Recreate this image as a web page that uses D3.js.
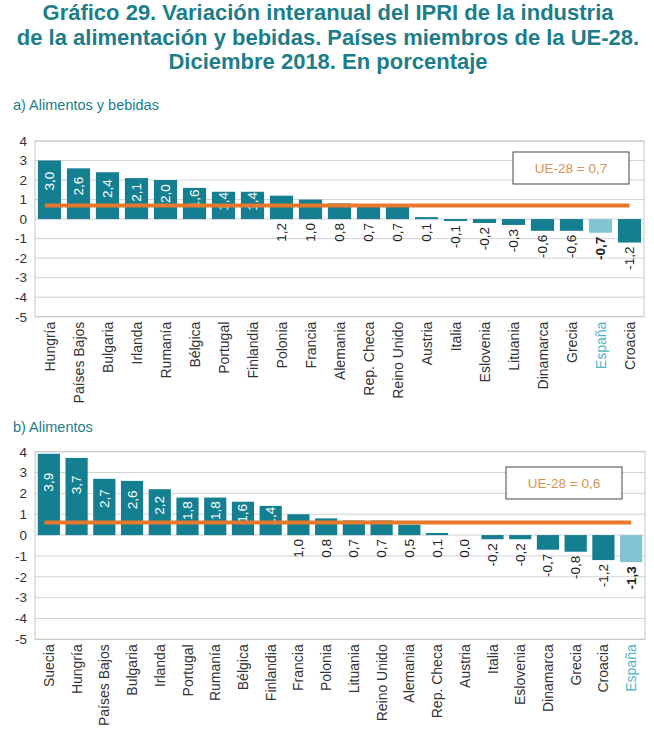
<!DOCTYPE html>
<html><head><meta charset="utf-8">
<script src="https://cdn.jsdelivr.net/npm/d3@7"></script>
<style>body{margin:0;background:#fff}svg{display:block;font-family:"Liberation Sans",Arial,sans-serif}</style>
</head><body><svg id="c" width="654" height="729"></svg>
<script>
const titleLines = ["Gráfico 29. Variación interanual del IPRI de la industria","de la alimentación y bebidas. Países miembros de la UE-28.","Diciembre 2018. En porcentaje"];
const subtitleA = "a) Alimentos y bebidas";
const subtitleB = "b) Alimentos";
const countriesA = ["Hungría","Países Bajos","Bulgaria","Irlanda","Rumanía","Bélgica","Portugal","Finlandia","Polonia","Francia","Alemania","Rep. Checa","Reino Unido","Austria","Italia","Eslovenia","Lituania","Dinamarca","Grecia","España","Croacia"];
const valuesA = [3.0,2.6,2.4,2.1,2.0,1.6,1.4,1.4,1.2,1.0,0.8,0.7,0.7,0.1,-0.1,-0.2,-0.3,-0.6,-0.6,-0.7,-1.2];
const euA = 0.7;
const countriesB = ["Suecia","Hungría","Países Bajos","Bulgaria","Irlanda","Portugal","Rumanía","Bélgica","Finlandia","Francia","Polonia","Lituania","Reino Unido","Alemania","Rep. Checa","Austria","Italia","Eslovenia","Dinamarca","Grecia","Croacia","España"];
const valuesB = [3.9,3.7,2.7,2.6,2.2,1.8,1.8,1.6,1.4,1.0,0.8,0.7,0.7,0.5,0.1,0.0,-0.2,-0.2,-0.7,-0.8,-1.2,-1.3];
const euB = 0.6;
const yTicks = [4,3,2,1,0,-1,-2,-3,-4,-5];
const highlight = "España";

const svg = d3.select("#c");
const TEAL = "#137f90", LIGHT = "#80c5d1", ORANGE = "#e7782c", TITLE = "#1d7d88";
const fmt = v => v.toFixed(1).replace(".", ",");

svg.append("g").selectAll("text").data(titleLines).join("text")
  .attr("x", 328).attr("y", (d,i) => 20 + i*24.5)
  .attr("text-anchor","middle").attr("font-size",22).attr("font-weight","bold")
  .attr("fill", TITLE).text(d => d);

function panel(cfg){
  const g = svg.append("g");
  const x = d3.scaleBand().domain(cfg.cats).range([cfg.left, cfg.right]).paddingInner(0.2).paddingOuter(0.1);
  const y = d3.scaleLinear().domain([-5,4]).range([cfg.bottom, cfg.top]);
  g.append("text").attr("x", cfg.subX).attr("y", cfg.subY).attr("font-size",14.5).attr("fill", TITLE).text(cfg.sub);
  g.append("g").selectAll("line").data(yTicks).join("line")
    .attr("x1", cfg.left).attr("x2", cfg.right).attr("y1", d=>y(d)).attr("y2", d=>y(d))
    .attr("stroke", "#d2d2d2").attr("stroke-width",1);
  g.append("rect").attr("x", cfg.left).attr("y", cfg.top).attr("width", cfg.right-cfg.left).attr("height", cfg.bottom-cfg.top)
    .attr("fill","none").attr("stroke","#c6c6c6");
  const ya = d3.axisLeft(y).tickValues(yTicks).tickSize(0).tickPadding(8).tickFormat(d3.format("d"));
  const ag = g.append("g").attr("transform", `translate(${cfg.left},0)`).call(ya);
  ag.select(".domain").remove();
  ag.selectAll("text").attr("font-size",13.5).attr("fill","#333").attr("font-family","Liberation Sans, Arial, sans-serif").text(d => d < 0 ? "-" + Math.abs(d) : d);
  const data = cfg.cats.map((c,i)=>({c, v: cfg.vals[i]}));
  g.append("g").selectAll("rect").data(data).join("rect")
    .attr("x", d=>x(d.c)).attr("width", x.bandwidth())
    .attr("y", d=>y(Math.max(0,d.v))).attr("height", d=>Math.max(Math.abs(y(d.v)-y(0)), d.v!==0?1.5:0))
    .attr("fill", d=> d.c===highlight ? LIGHT : TEAL);
  g.append("g").selectAll("text").data(data).join("text")
    .attr("transform", d=>{
      const cx = x(d.c)+x.bandwidth()/2;
      if (d.v >= 1.3){
        const top = y(d.v), h = y(0)-y(d.v);
        return `translate(${cx+4.5},${top + 0.35*h}) rotate(-90)`;
      }
      return `translate(${cx+4.5},${Math.max(y(0), y(d.v)) + 4}) rotate(-90)`;
    })
    .attr("text-anchor", d=> d.v>=1.3 ? "middle" : "end")
    .attr("font-size",13.5)
    .attr("font-weight", d=> d.c===highlight ? "bold" : "normal")
    .attr("fill", d=> d.v>=1.3 ? "#fff" : "#222")
    .text(d=>fmt(d.v));
  g.append("line")
    .attr("x1", x(cfg.cats[0]) + x.bandwidth()*0.3).attr("x2", x(cfg.cats[cfg.cats.length-1]) + x.bandwidth()/2)
    .attr("y1", y(cfg.eu)).attr("y2", y(cfg.eu)).attr("stroke", ORANGE).attr("stroke-width",4);
  g.append("rect").attr("x", cfg.lx).attr("y", cfg.ly).attr("width",116).attr("height",32)
    .attr("fill","#fff").attr("stroke","#444").attr("stroke-width",1);
  g.append("text").attr("x", cfg.lx+58).attr("y", cfg.ly+21).attr("text-anchor","middle")
    .attr("font-size",13.5).attr("fill","#d8924f").text("UE-28 = " + fmt(cfg.eu));
  g.append("g").selectAll("text").data(data).join("text")
    .attr("transform", d=>`translate(${x(d.c)+x.bandwidth()/2+5},${cfg.bottom+5}) rotate(-90)`)
    .attr("text-anchor","end").attr("font-size",14)
    .attr("fill", d=> d.c===highlight ? "#4fb3c8" : "#333").text(d=>d.c);
}

panel({cats: countriesA, vals: valuesA, eu: euA, left:35, right:644, top:141, bottom:316.7,
  sub: subtitleA, subX:13, subY:110, lx:513, ly:152});
panel({cats: countriesB, vals: valuesB, eu: euB, left:35, right:645, top:451.7, bottom:639.3,
  sub: subtitleB, subX:13, subY:432, lx:506, ly:467});
</script></body></html>
